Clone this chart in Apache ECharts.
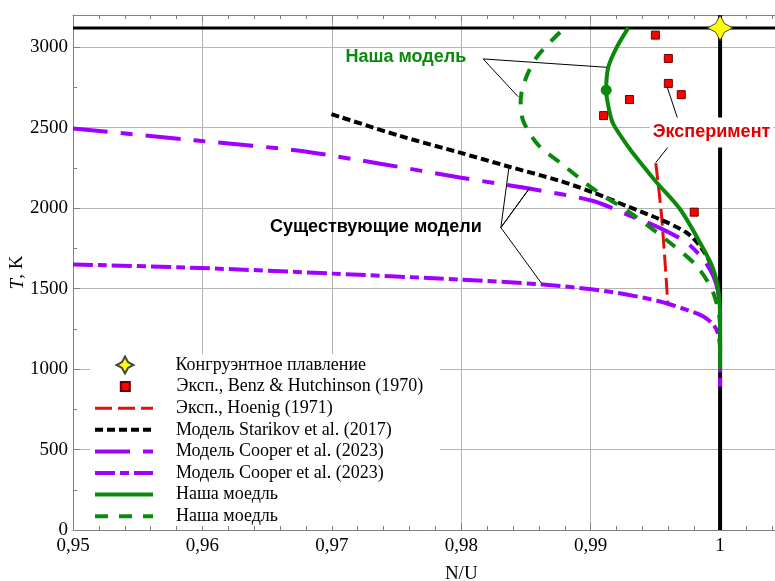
<!DOCTYPE html>
<html>
<head>
<meta charset="utf-8">
<script src="https://cdn.jsdelivr.net/npm/echarts@6/dist/echarts.min.js"></script>
<style>
  html, body { margin: 0; padding: 0; background: #fff; }
  #chart { width: 775px; height: 581px; }
</style>
</head>
<body>
<div id="chart"></div>
<script>
// ---- data: N/U ratio vs temperature T (K) ----
const congruentMelting = [[1.0, 3120]];
const benzHutchinson = [
  [0.995, 3075], [0.996, 2930], [0.996, 2775], [0.997, 2705],
  [0.993, 2675], [0.991, 2575], [0.998, 1975]
];
const hoenig = [[0.99503, 2280], [0.99548, 1950], [0.99596, 1410]];
const starikov = [
  [0.96997, 2584], [0.97525, 2449], [0.97989, 2345], [0.9835, 2262],
  [0.98763, 2169], [0.9902, 2097], [0.99278, 2013], [0.99536, 1930],
  [0.99742, 1847], [0.99845, 1764], [0.99923, 1661], [0.99974, 1536],
  [0.99995, 1432], [1.0, 1390]
];
const cooperDash = [
  [0.95, 2495], [0.95981, 2418], [0.9675, 2356], [0.97396, 2273],
  [0.97989, 2190], [0.98556, 2117], [0.9902, 2044], [0.99278, 1961],
  [0.99536, 1876], [0.99742, 1785], [0.99871, 1681], [0.99948, 1577],
  [0.99985, 1480], [1.0, 1360], [1.0, 1300]
];
const cooperDashDot = [
  [0.95, 1650], [0.95981, 1628], [0.9701, 1593], [0.97989, 1556],
  [0.98634, 1525], [0.9902, 1494], [0.99278, 1463], [0.99536, 1420],
  [0.99742, 1368], [0.99871, 1327], [0.99948, 1275], [0.99985, 1220],
  [1.0, 1120], [1.0, 890]
];
const oursSolid = [
  [0.99291, 3120], [0.99201, 2999], [0.99136, 2875], [0.9912, 2733],
  [0.99144, 2605], [0.99175, 2522], [0.99304, 2366], [0.99395, 2273],
  [0.9951, 2159], [0.99691, 1993], [0.99845, 1785], [0.99948, 1619],
  [0.99995, 1432], [1.0, 1245], [1.0, 1000]
];
const oursDashed = [
  [0.98763, 3093], [0.98582, 2937], [0.98492, 2792], [0.98459, 2667],
  [0.98479, 2542], [0.98595, 2392], [0.98763, 2283], [0.9904, 2108],
  [0.99304, 1972], [0.99613, 1785], [0.9982, 1639], [0.99948, 1473],
  [1.0, 1266], [1.0, 1050]
];
const oursMarker = [[0.9912, 2733]];
const meltingLine = [[0.95, 3120], [1.01, 3120]];
const stoichLine = [[1.0, 0], [1.0, 3200]];

// annotation captions and their leader lines
const captionTexts = ['Наша модель', 'Существующие модели', 'Эксперимент'];
const captionPoints = [[0.97572, 2939], [0.9734, 1880], [0.99934, 2470]];
const leaderPaths = [
  [[0.99124, 2875], [0.98169, 2927], [0.9844, 2692]],
  [[0.9837, 2262], [0.98306, 1879], [0.98525, 2121], [0.98306, 1879], [0.98621, 1532]],
  [[0.99588, 2760], [0.99678, 2542]],
  [[0.99626, 2408], [0.99503, 2283]]
];

const legendNames = [
  'Конгруэнтное плавление',
  'Эксп., Benz & Hutchinson (1970)',
  'Эксп., Hoenig (1971)',
  'Модель Starikov et al. (2017)',
  'Модель Cooper et al. (2023)',
  'Модель Cooper et al. (2023) ',
  'Наша моедль',
  'Наша моедль '
];

// ---- styles ----
const GREEN = '#0a8a0a';
const PURPLE = '#a000ff';
const RED = '#e00000';
const AXIS = '#808080';
const SERIF = '"Liberation Serif", "Times New Roman", serif';
const SANS = '"Liberation Sans", Arial, sans-serif';
const STAR = 'path://M0,-12 L4.2,-4.2 L12,0 L4.2,4.2 L0,12 L-4.2,4.2 L-12,0 L-4.2,-4.2 Z';
const SQUARE = 'path://M0,0 H10 V10 H0 Z';
const captionColors = [GREEN, '#000', RED];

const fmtX = v => String(+(+v).toFixed(2)).replace('.', ',');

function curve(name, data, color, width, dash, z) {
  return {
    type: 'line', name, data, smooth: 0.3, symbol: 'none',
    lineStyle: { color, width, type: dash, cap: 'butt' },
    itemStyle: { color }, z: z || 3, silent: true
  };
}

const series = [
  { type: 'line', data: meltingLine, symbol: 'none', lineStyle: { color: '#000', width: 3 }, z: 2, silent: true },
  { type: 'line', data: stoichLine, symbol: 'none', lineStyle: { color: '#000', width: 4 }, z: 2, silent: true },
  curve(legendNames[2], hoenig, '#e01010', 3, [17, 6]),
  curve(legendNames[3], starikov, '#000', 4, [8, 4]),
  curve(legendNames[4], cooperDash, PURPLE, 4, [35, 13, 12, 13]),
  curve(legendNames[5], cooperDashDot, PURPLE, 4, [20, 5, 9, 5]),
  curve(legendNames[7], oursDashed, GREEN, 4, [13, 11]),
  curve(legendNames[6], oursSolid, GREEN, 4, 'solid', 4),
  {
    type: 'scatter', data: oursMarker, symbol: 'circle', symbolSize: 11,
    itemStyle: { color: GREEN, opacity: 1 }, z: 5, silent: true
  },
  {
    type: 'scatter', name: legendNames[1], data: benzHutchinson, symbol: SQUARE, symbolSize: 8,
    itemStyle: { color: '#ff0000', borderColor: '#6a0000', borderWidth: 1, opacity: 1 }, z: 5, silent: true
  },
  {
    type: 'scatter', name: legendNames[0], data: congruentMelting, symbol: STAR, symbolSize: 25,
    itemStyle: { color: '#ffff00', borderColor: '#444', borderWidth: 1, opacity: 1 }, z: 6, silent: true
  }
];

leaderPaths.forEach(p => series.push({
  type: 'line', data: p, symbol: 'none', lineStyle: { color: '#000', width: 1 }, z: 5, silent: true
}));

series.push({
  type: 'scatter', symbolSize: 1, itemStyle: { color: 'rgba(0,0,0,0)', opacity: 1 }, z: 7, silent: true,
  data: captionTexts.map((t, i) => ({
    name: t, value: captionPoints[i],
    label: {
      color: captionColors[i],
      backgroundColor: i === 2 ? '#fff' : 'transparent',
      padding: i === 2 ? [6, 3] : 0
    }
  })),
  label: {
    show: true, position: 'inside', formatter: p => p.name, opacity: 1,
    fontFamily: SANS, fontWeight: 'bold', fontSize: 18
  }
});

const legendBase = {
  orient: 'vertical', padding: 0, itemGap: 0, itemWidth: 58,
  selectedMode: false, formatter: n => n.trim(),
  textStyle: { fontFamily: SERIF, fontSize: 18, color: '#000', lineHeight: 21.6, padding: [0, 0, 0, 18] },
  lineStyle: { width: 4 }
};

const option = {
  animation: false,
  backgroundColor: '#fff',
  grid: { left: 73, right: -74.5, top: 15, bottom: 51, containLabel: false, outerBoundsMode: 'none' },
  xAxis: [
    {
      type: 'value', position: 'bottom', min: 0.95, max: 1.01, interval: 0.01,
      name: 'N/U', nameLocation: 'middle', nameGap: 35, nameMoveOverlap: false,
      nameTextStyle: { fontFamily: SERIF, fontSize: 19, color: '#000' },
      axisLine: { onZero: false, lineStyle: { color: AXIS, width: 1 } },
      axisTick: { inside: true, length: 7, lineStyle: { color: AXIS } },
      minorTick: { show: true, splitNumber: 5, length: 4, lineStyle: { color: AXIS } },
      splitLine: { show: true, lineStyle: { color: '#b4b4b4', width: 1 } },
      axisLabel: { formatter: fmtX, fontFamily: SERIF, fontSize: 19, color: '#000', margin: 7, showMaxLabel: false }
    },
    {
      type: 'value', position: 'top', min: 0.95, max: 1.01, interval: 0.01,
      axisLine: { onZero: false, lineStyle: { color: AXIS, width: 1 } },
      axisTick: { inside: true, length: 7, lineStyle: { color: AXIS } },
      minorTick: { show: true, splitNumber: 5, length: 4, lineStyle: { color: AXIS } },
      splitLine: { show: false }, axisLabel: { show: false }
    }
  ],
  yAxis: [
    {
      type: 'value', position: 'left', min: 0, max: 3200, interval: 500,
      name: '{i|T}, K', nameLocation: 'middle', nameGap: 46, nameMoveOverlap: false,
      nameTextStyle: { fontFamily: SERIF, fontSize: 19, color: '#000', rich: { i: { fontFamily: SERIF, fontSize: 19, fontStyle: 'italic', color: '#000' } } },
      axisLine: { onZero: false, lineStyle: { color: AXIS, width: 1 } },
      axisTick: { inside: true, length: 7, lineStyle: { color: AXIS } },
      splitLine: { show: true, lineStyle: { color: '#b4b4b4', width: 1 } },
      axisLabel: { formatter: v => String(v), fontFamily: SERIF, fontSize: 19, color: '#000', margin: 5, showMaxLabel: false }
    },
    {
      type: 'value', position: 'left', min: 0, max: 3200, interval: 250,
      axisLine: { show: false },
      axisTick: { inside: true, length: 4, lineStyle: { color: AXIS } },
      splitLine: { show: false }, axisLabel: { show: false }
    }
  ],
  legend: [
    Object.assign({}, legendBase, {
      left: 115.5, top: 354.2, itemHeight: 17, data: [legendNames[0]],
      textStyle: Object.assign({}, legendBase.textStyle, { padding: [0, 0, 0, 16.5] })
    }),
    Object.assign({}, legendBase, {
      left: 119.8, top: 375.8, itemHeight: 9, data: [legendNames[1]],
      textStyle: Object.assign({}, legendBase.textStyle, { padding: [0, 0, 0, 17.2] })
    }),
    Object.assign({}, legendBase, {
      left: 93, top: 397.4, itemHeight: 12, itemStyle: { opacity: 0 },
      data: [
        { name: legendNames[2], lineStyle: { width: 3 } },
        legendNames[3], legendNames[4], legendNames[5], legendNames[6], legendNames[7]
      ]
    })
  ],
  graphic: [{
    type: 'rect', z: 1, silent: true,
    shape: { x: 90, y: 354, width: 350, height: 172 },
    style: { fill: '#fff' }
  }],
  series
};

const chart = echarts.init(document.getElementById('chart'), null, { renderer: 'canvas' });
chart.setOption(option);
</script>
</body>
</html>
